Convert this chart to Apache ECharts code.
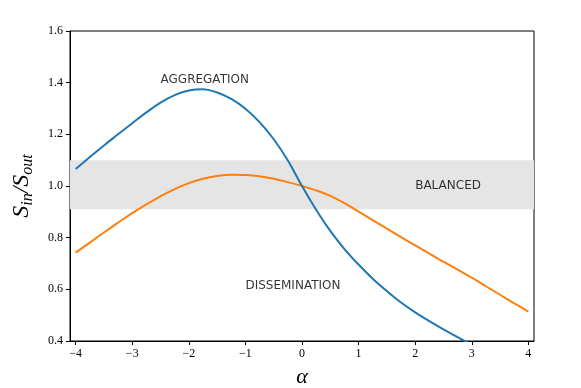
<!DOCTYPE html>
<html>
<head>
  <meta charset="utf-8"/>
  <title>S_in / S_out vs alpha</title>
  <script src="https://cdn.jsdelivr.net/npm/echarts@6/dist/echarts.min.js"></script>
  <style>
    body { margin: 0; background: #fff; }
  </style>
</head>
<body>
<div id="main" style="width: 581px;height: 388px"></div>
<script type="text/javascript">
  // values
  var alphas = [-4, -3.75, -3.5, -3.25, -3, -2.75, -2.5, -2.25, -2, -1.75, -1.5, -1.25, -1, -0.75, -0.5, -0.25,
                0, 0.25, 0.5, 0.75, 1, 1.25, 1.5, 1.75, 2, 2.25, 2.5, 2.75, 3, 3.25, 3.5, 3.75, 4];
  var blueVals = [1.066, 1.112, 1.157, 1.200, 1.243, 1.285, 1.323, 1.352, 1.370, 1.375, 1.362, 1.337, 1.299, 1.247, 1.181, 1.099,
                  1.000, 0.908, 0.826, 0.756, 0.696, 0.641, 0.593, 0.549, 0.511, 0.477, 0.445, 0.415, 0.385, null, null, null, null];
  var orangeVals = [0.742, 0.781, 0.820, 0.858, 0.895, 0.929, 0.960, 0.988, 1.011, 1.028, 1.039, 1.044, 1.043, 1.038, 1.028, 1.015,
                    1.000, 0.983, 0.962, 0.934, 0.901, 0.868, 0.835, 0.802, 0.770, 0.738, 0.707, 0.676, 0.645, 0.612, 0.579, 0.546, 0.514];
  var xTicks = [-4, -3, -2, -1, 0, 1, 2, 3, 4];
  var yTicks = [0.4, 0.6, 0.8, 1.0, 1.2, 1.4, 1.6];
  var band = [0.91, 1.1];
  var noteText = ['AGGREGATION', 'BALANCED', 'DISSEMINATION'];
  var noteX = [-2.5, 2, -1];
  var noteY = [1.4, 1.0, 0.6];
  var noteVAlign = ['bottom', 'middle', 'bottom'];

  function pairs(xs, ys) {
    return xs.map(function (x, i) { return [x, ys[i]]; });
  }

  var tickFont = { fontFamily: 'Liberation Serif', fontSize: 12, color: '#000' };

  var myChart = echarts.init(document.getElementById('main'));

  myChart.setOption({
    animation: false,
    grid: {
      left: 70, right: 47, top: 31, bottom: 47,
      outerBoundsMode: 'none',
      show: true, borderColor: '#000', borderWidth: 1
    },
    xAxis: {
      type: 'value',
      min: -4.1, max: 4.1,
      name: 'α',
      nameLocation: 'middle',
      nameGap: 25,
      nameTextStyle: { fontFamily: 'Liberation Serif', fontStyle: 'italic', fontSize: 22, color: '#000' },
      axisLine: { show: true, onZero: false, lineStyle: { color: '#000' } },
      axisTick: { show: true, length: 4, customValues: xTicks, lineStyle: { color: '#000' } },
      axisLabel: Object.assign({
        margin: 7,
        customValues: xTicks,
        formatter: function (v) { return String(v).replace('-', '\u2212'); }
      }, tickFont),
      splitLine: { show: false }
    },
    yAxis: {
      type: 'value',
      min: 0.4, max: 1.6,
      name: '{s|S}{sub|in}{s|/S}{sub|out}',
      nameLocation: 'middle',
      nameGap: 34,
      nameTextStyle: {
        color: '#000',
        rich: {
          s: { fontFamily: 'Liberation Serif', fontStyle: 'italic', fontSize: 24, color: '#000' },
          sub: { fontFamily: 'Liberation Serif', fontStyle: 'italic', fontSize: 16, color: '#000', padding: [12, 0, 0, 0] }
        }
      },
      axisLine: { show: true, onZero: false, lineStyle: { color: '#000' } },
      axisTick: { show: true, length: 4, customValues: yTicks, lineStyle: { color: '#000' } },
      axisLabel: Object.assign({
        margin: 7,
        customValues: yTicks,
        formatter: function (v) { return v.toFixed(1); }
      }, tickFont),
      splitLine: { show: false }
    },
    series: [
      {
        name: 'band',
        type: 'line',
        data: [],
        z: 0,
        markArea: {
          silent: true,
          itemStyle: { color: '#e5e5e5' },
          data: [[{ xAxis: 'min', yAxis: band[0] }, { xAxis: 'max', yAxis: band[1] }]]
        }
      },
      {
        name: 'blue',
        type: 'line',
        data: pairs(alphas, blueVals),
        smooth: 0.4,
        showSymbol: false,
        z: 3,
        lineStyle: { color: '#1f77b4', width: 2 },
        itemStyle: { color: '#1f77b4' }
      },
      {
        name: 'orange',
        type: 'line',
        data: pairs(alphas, orangeVals),
        smooth: 0.4,
        showSymbol: false,
        z: 2,
        lineStyle: { color: '#ff7f0e', width: 2 },
        itemStyle: { color: '#ff7f0e' }
      },
      {
        name: 'notes',
        type: 'scatter',
        symbolSize: 0,
        silent: true,
        z: 4,
        data: noteText.map(function (t, i) {
          return {
            value: [noteX[i], noteY[i]],
            label: {
              show: true,
              formatter: t,
              // text baseline sits on the point, like a plain text annotation
              position: [0, noteVAlign[i] === 'bottom' ? 3 : 0],
              align: 'left',
              verticalAlign: noteVAlign[i],
              fontFamily: 'DejaVu Sans',
              fontSize: 12,
              color: '#000'
            }
          };
        })
      }
    ]
  });
</script>
</body>
</html>
